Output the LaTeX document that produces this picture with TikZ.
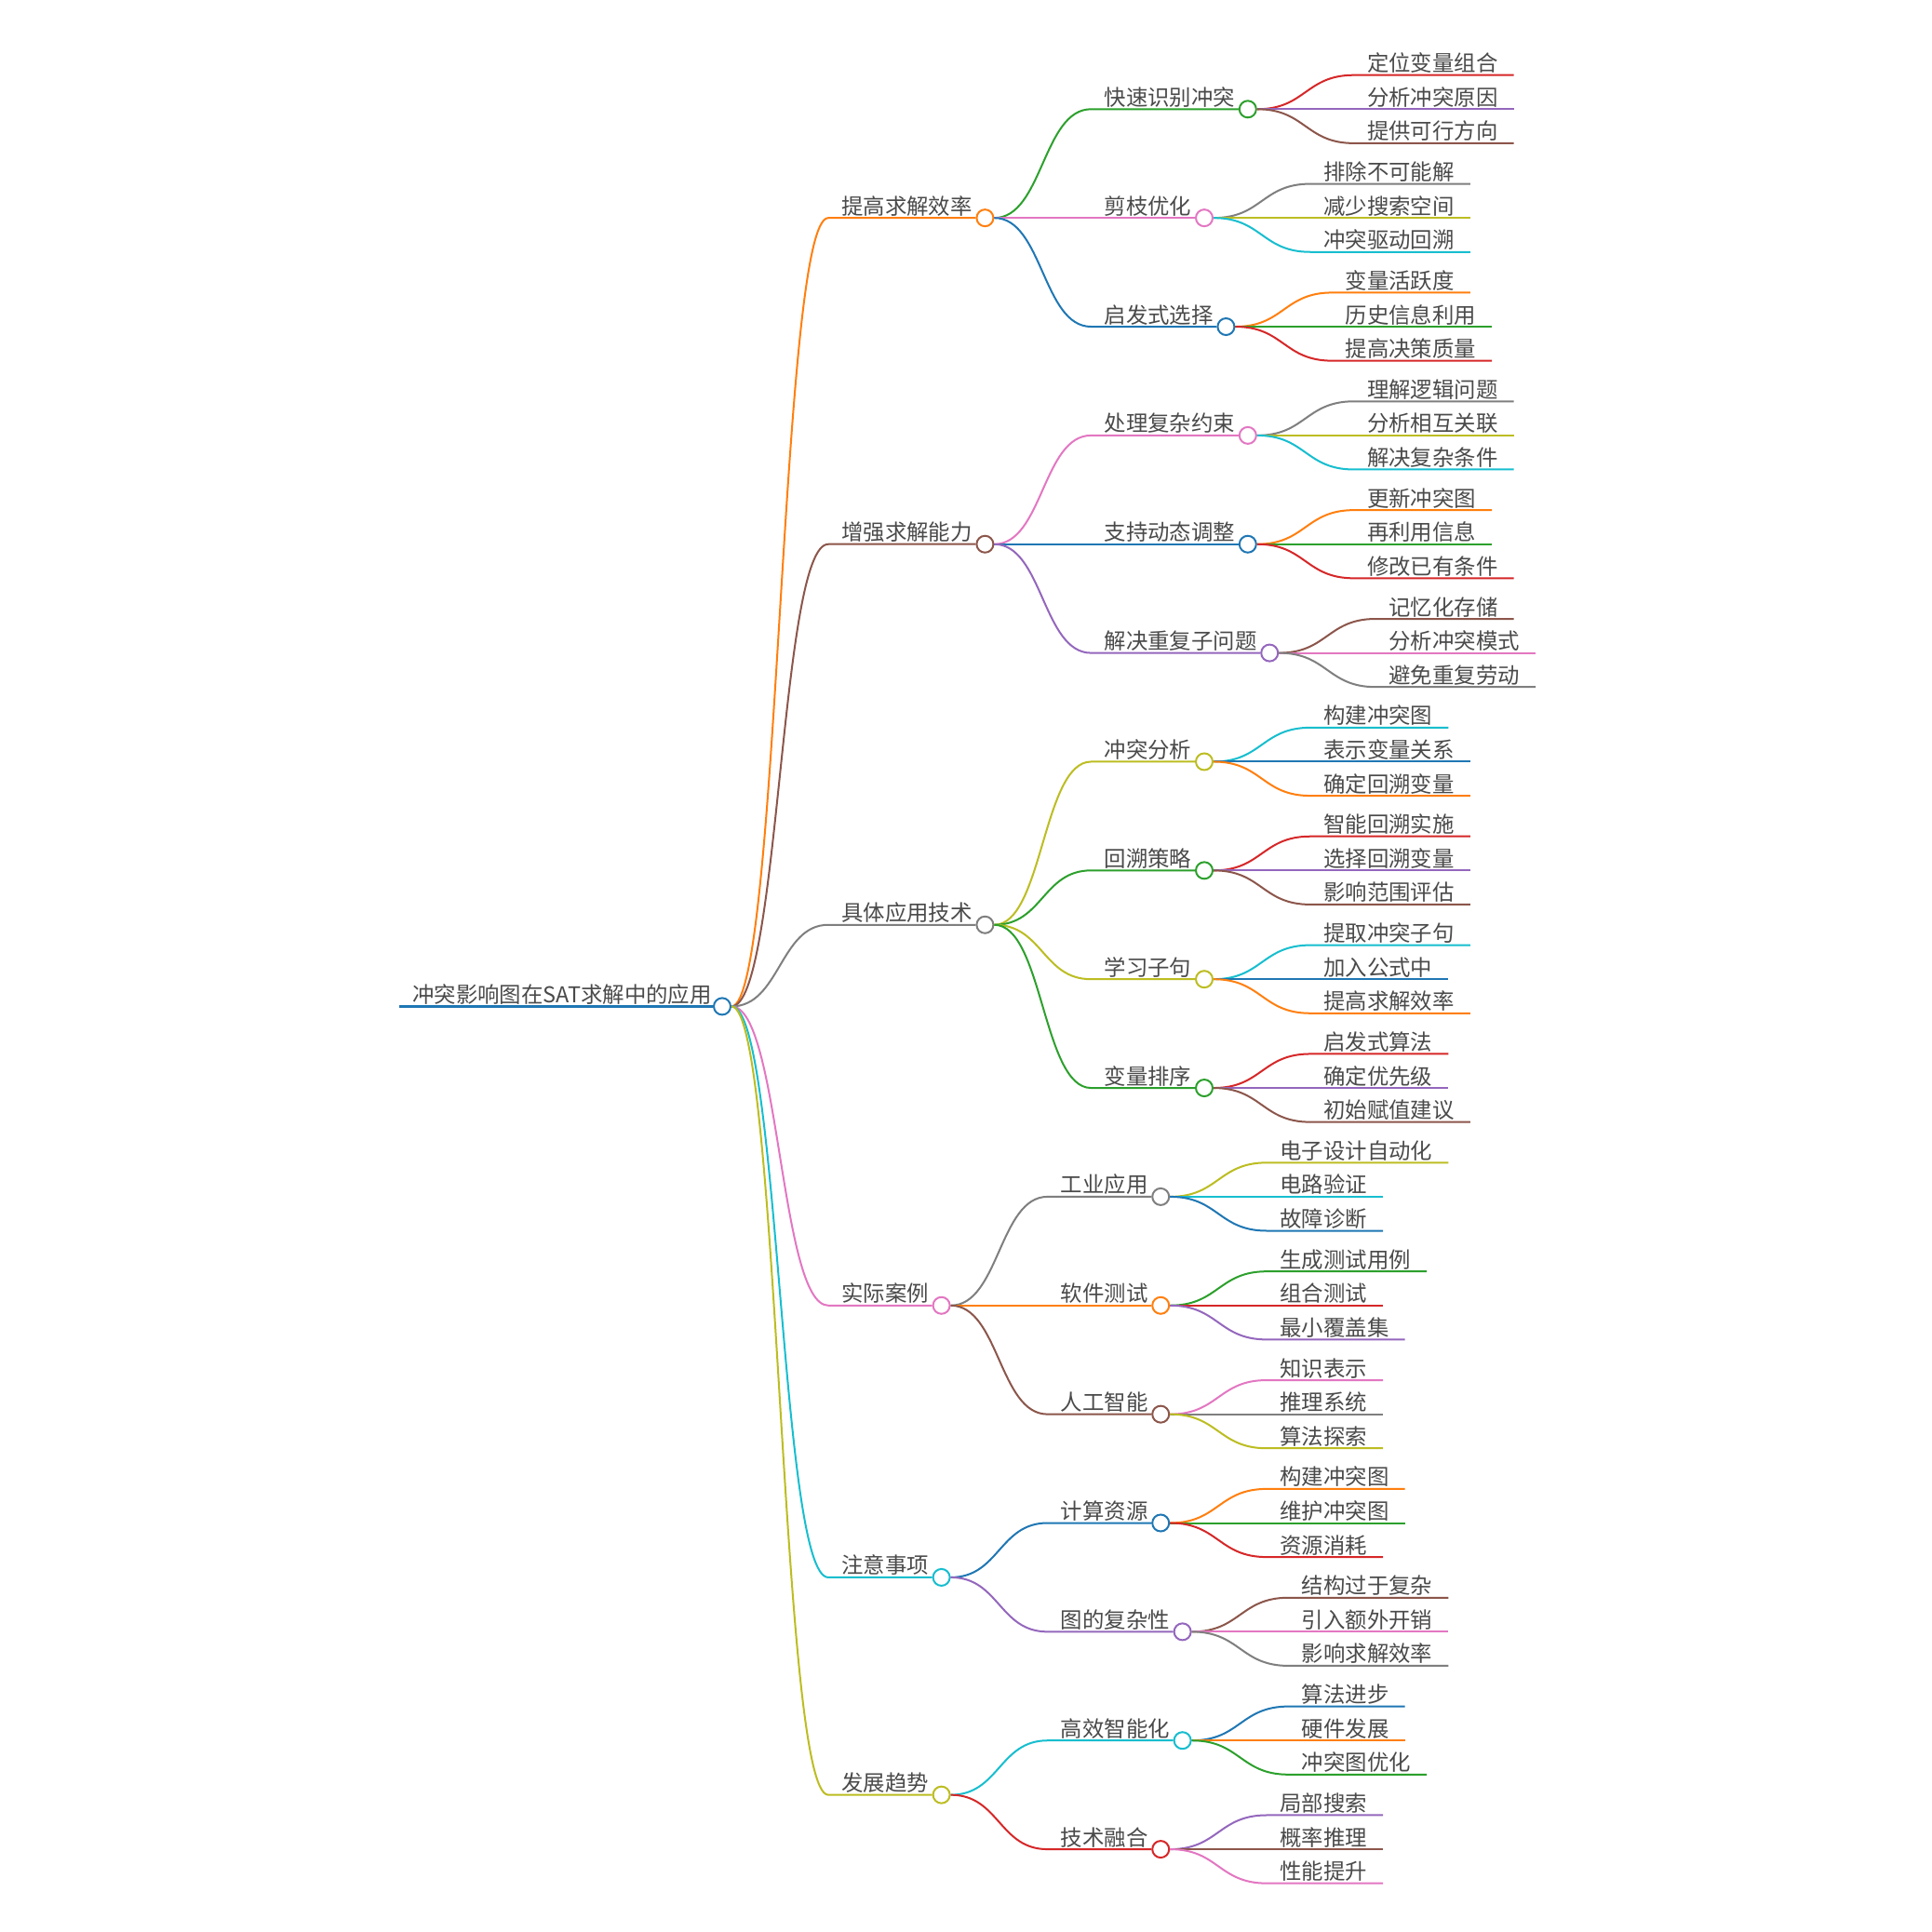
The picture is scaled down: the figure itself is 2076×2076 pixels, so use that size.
\documentclass[tikz,border=0pt]{standalone}
\usepackage{fontspec}
\newfontfamily\cjk{Noto Sans CJK SC}
\usetikzlibrary{calc}
\definecolor{cblue}{HTML}{1F77B4}
\definecolor{corange}{HTML}{FF7F0E}
\definecolor{cgreen}{HTML}{2CA02C}
\definecolor{cred}{HTML}{D62728}
\definecolor{cpurple}{HTML}{9467BD}
\definecolor{cbrown}{HTML}{8C564B}
\definecolor{cpink}{HTML}{E377C2}
\definecolor{cgray}{HTML}{7F7F7F}
\definecolor{colive}{HTML}{BCBD22}
\definecolor{ccyan}{HTML}{17BECF}
\definecolor{txt}{HTML}{4A4A4A}
\tikzset{
  lbl/.style={anchor=base west, inner sep=0pt, text=txt, font=\cjk\fontsize{23.4pt}{28pt}\selectfont},
  dot/.style={circle, draw=#1, fill=white, line width=2pt, minimum size=18pt, inner sep=0pt},
  br/.style={draw=#1, line width=2pt},
}
% internal node: name, parent, colour, x start, y, x circle, text
\newcommand\mmin[7]{%
  \coordinate (#1s) at (#4,#5);
  \node[lbl] (#1t) at (#4+14,#5-4) {#7};
  \node[dot=#3] (#1) at (#6,#5) {};
  \draw[br=#3] (#2.east) .. controls +(52,0) and +(-52,0) .. (#1s) -- (#1.west);
}
% leaf: name, parent, colour, x start, y, text
\newcommand\mmlf[6]{%
  \coordinate (#1s) at (#4,#5);
  \node[lbl] (#1) at (#4+14,#5-4) {#6};
  \coordinate (#1e) at ([xshift=17pt]#1.base east);
  \draw[br=#3] (#2.east) .. controls +(52,0) and +(-52,0) .. (#1s) -- (#1s -| #1e);
}
\begin{document}
\begin{tikzpicture}[x=1pt,y=-1pt]
\useasboundingbox (0,0) rectangle (2076,2076);
\fill[white] (0,0) rectangle (2076,2076);
% root
\coordinate (Rs) at (429,1081.4);
\node[lbl] (Rt) at (443,1081.4-4) {冲突影响图在SAT求解中的应用};
\node[dot=cblue] (R) at (776,1081.4) {};
\draw[br=cblue, line width=3pt] (Rs) -- (R.west);
% level 1
\mmin{A}{R}{corange}{890}{234.16}{1058.4}{提高求解效率}
\mmin{B}{R}{cbrown}{890}{584.74}{1058.4}{增强求解能力}
\mmin{C}{R}{cgray}{890}{993.75}{1058.4}{具体应用技术}
\mmin{D}{R}{cpink}{890}{1402.76}{1011.6}{实际案例}
\mmin{E}{R}{ccyan}{890}{1694.91}{1011.6}{注意事项}
\mmin{F}{R}{colive}{890}{1928.63}{1011.6}{发展趋势}
% level 2
\mmin{Aa}{A}{cgreen}{1172.4}{117.3}{1340.8}{快速识别冲突}
\mmin{Ab}{A}{cpink}{1172.4}{234.16}{1294.0}{剪枝优化}
\mmin{Ac}{A}{cblue}{1172.4}{351.02}{1317.4}{启发式选择}
\mmin{Ba}{B}{cpink}{1172.4}{467.88}{1340.8}{处理复杂约束}
\mmin{Bb}{B}{cblue}{1172.4}{584.74}{1340.8}{支持动态调整}
\mmin{Bc}{B}{cpurple}{1172.4}{701.6}{1364.2}{解决重复子问题}
\mmin{Ca}{C}{colive}{1172.4}{818.46}{1294.0}{冲突分析}
\mmin{Cb}{C}{cgreen}{1172.4}{935.32}{1294.0}{回溯策略}
\mmin{Cc}{C}{colive}{1172.4}{1052.18}{1294.0}{学习子句}
\mmin{Cd}{C}{cgreen}{1172.4}{1169.04}{1294.0}{变量排序}
\mmin{Da}{D}{cgray}{1125.6}{1285.9}{1247.2}{工业应用}
\mmin{Db}{D}{corange}{1125.6}{1402.76}{1247.2}{软件测试}
\mmin{Dc}{D}{cbrown}{1125.6}{1519.62}{1247.2}{人工智能}
\mmin{Ea}{E}{cblue}{1125.6}{1636.48}{1247.2}{计算资源}
\mmin{Eb}{E}{cpurple}{1125.6}{1753.34}{1270.6}{图的复杂性}
\mmin{Fa}{F}{ccyan}{1125.6}{1870.2}{1270.6}{高效智能化}
\mmin{Fb}{F}{cred}{1125.6}{1987.06}{1247.2}{技术融合}
% leaves
\mmlf{Aa1}{Aa}{cred}{1454.8}{117.3-36.6}{定位变量组合}
\mmlf{Aa2}{Aa}{cpurple}{1454.8}{117.3}{分析冲突原因}
\mmlf{Aa3}{Aa}{cbrown}{1454.8}{117.3+36.6}{提供可行方向}
\mmlf{Ab1}{Ab}{cgray}{1408.0}{234.16-36.6}{排除不可能解}
\mmlf{Ab2}{Ab}{colive}{1408.0}{234.16}{减少搜索空间}
\mmlf{Ab3}{Ab}{ccyan}{1408.0}{234.16+36.6}{冲突驱动回溯}
\mmlf{Ac1}{Ac}{corange}{1431.4}{351.02-36.6}{变量活跃度}
\mmlf{Ac2}{Ac}{cgreen}{1431.4}{351.02}{历史信息利用}
\mmlf{Ac3}{Ac}{cred}{1431.4}{351.02+36.6}{提高决策质量}
\mmlf{Ba1}{Ba}{cgray}{1454.8}{467.88-36.6}{理解逻辑问题}
\mmlf{Ba2}{Ba}{colive}{1454.8}{467.88}{分析相互关联}
\mmlf{Ba3}{Ba}{ccyan}{1454.8}{467.88+36.6}{解决复杂条件}
\mmlf{Bb1}{Bb}{corange}{1454.8}{584.74-36.6}{更新冲突图}
\mmlf{Bb2}{Bb}{cgreen}{1454.8}{584.74}{再利用信息}
\mmlf{Bb3}{Bb}{cred}{1454.8}{584.74+36.6}{修改已有条件}
\mmlf{Bc1}{Bc}{cbrown}{1478.2}{701.6-36.6}{记忆化存储}
\mmlf{Bc2}{Bc}{cpink}{1478.2}{701.6}{分析冲突模式}
\mmlf{Bc3}{Bc}{cgray}{1478.2}{701.6+36.6}{避免重复劳动}
\mmlf{Ca1}{Ca}{ccyan}{1408.0}{818.46-36.6}{构建冲突图}
\mmlf{Ca2}{Ca}{cblue}{1408.0}{818.46}{表示变量关系}
\mmlf{Ca3}{Ca}{corange}{1408.0}{818.46+36.6}{确定回溯变量}
\mmlf{Cb1}{Cb}{cred}{1408.0}{935.32-36.6}{智能回溯实施}
\mmlf{Cb2}{Cb}{cpurple}{1408.0}{935.32}{选择回溯变量}
\mmlf{Cb3}{Cb}{cbrown}{1408.0}{935.32+36.6}{影响范围评估}
\mmlf{Cc1}{Cc}{ccyan}{1408.0}{1052.18-36.6}{提取冲突子句}
\mmlf{Cc2}{Cc}{cblue}{1408.0}{1052.18}{加入公式中}
\mmlf{Cc3}{Cc}{corange}{1408.0}{1052.18+36.6}{提高求解效率}
\mmlf{Cd1}{Cd}{cred}{1408.0}{1169.04-36.6}{启发式算法}
\mmlf{Cd2}{Cd}{cpurple}{1408.0}{1169.04}{确定优先级}
\mmlf{Cd3}{Cd}{cbrown}{1408.0}{1169.04+36.6}{初始赋值建议}
\mmlf{Da1}{Da}{colive}{1361.2}{1285.9-36.6}{电子设计自动化}
\mmlf{Da2}{Da}{ccyan}{1361.2}{1285.9}{电路验证}
\mmlf{Da3}{Da}{cblue}{1361.2}{1285.9+36.6}{故障诊断}
\mmlf{Db1}{Db}{cgreen}{1361.2}{1402.76-36.6}{生成测试用例}
\mmlf{Db2}{Db}{cred}{1361.2}{1402.76}{组合测试}
\mmlf{Db3}{Db}{cpurple}{1361.2}{1402.76+36.6}{最小覆盖集}
\mmlf{Dc1}{Dc}{cpink}{1361.2}{1519.62-36.6}{知识表示}
\mmlf{Dc2}{Dc}{cgray}{1361.2}{1519.62}{推理系统}
\mmlf{Dc3}{Dc}{colive}{1361.2}{1519.62+36.6}{算法探索}
\mmlf{Ea1}{Ea}{corange}{1361.2}{1636.48-36.6}{构建冲突图}
\mmlf{Ea2}{Ea}{cgreen}{1361.2}{1636.48}{维护冲突图}
\mmlf{Ea3}{Ea}{cred}{1361.2}{1636.48+36.6}{资源消耗}
\mmlf{Eb1}{Eb}{cbrown}{1384.6}{1753.34-36.6}{结构过于复杂}
\mmlf{Eb2}{Eb}{cpink}{1384.6}{1753.34}{引入额外开销}
\mmlf{Eb3}{Eb}{cgray}{1384.6}{1753.34+36.6}{影响求解效率}
\mmlf{Fa1}{Fa}{cblue}{1384.6}{1870.2-36.6}{算法进步}
\mmlf{Fa2}{Fa}{corange}{1384.6}{1870.2}{硬件发展}
\mmlf{Fa3}{Fa}{cgreen}{1384.6}{1870.2+36.6}{冲突图优化}
\mmlf{Fb1}{Fb}{cpurple}{1361.2}{1987.06-36.6}{局部搜索}
\mmlf{Fb2}{Fb}{cbrown}{1361.2}{1987.06}{概率推理}
\mmlf{Fb3}{Fb}{cpink}{1361.2}{1987.06+36.6}{性能提升}
\end{tikzpicture}
\end{document}
